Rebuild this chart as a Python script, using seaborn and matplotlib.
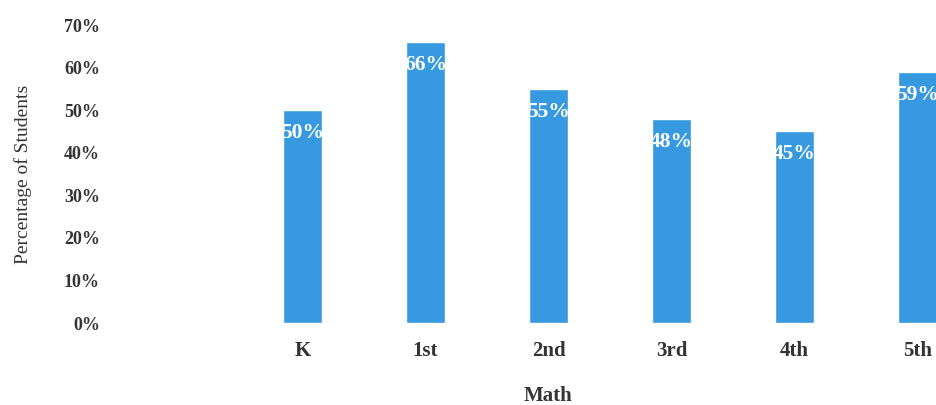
import pandas as pd
import seaborn as sns
import matplotlib.pyplot as plt

# grades shown on the axis; the first slot is left empty in the source chart
grades = ["", "K", "1st", "2nd", "3rd", "4th", "5th"]
bar_grades = ["K", "1st", "2nd", "3rd", "4th", "5th"]
math_pct = [50, 66, 55, 48, 45, 59]
y_ticks = [0, 10, 20, 30, 40, 50, 60, 70]

df = pd.DataFrame({"grade": bar_grades, "pct": math_pct})

sns.set_style("white")
plt.rcParams["font.family"] = ["Liberation Serif", "DejaVu Serif"]

fig = plt.figure(figsize=(9.37, 4.05), dpi=100)
# axes runs past the right edge, the reference is a crop of a wider chart
ax = fig.add_axes([118 / 937, 82 / 405, 861 / 937, 298 / 405])

sns.barplot(data=df, x="grade", y="pct", order=grades, color="#3799E0",
            saturation=1, width=0.31, ax=ax)

for i, v in enumerate(math_pct):
    ax.annotate(f"{v}%", xy=(i + 1, v), xytext=(0, -16.5),
                textcoords="offset points", ha="center", va="center",
                color="white", fontsize=15.5, fontweight="bold")

ax.set_ylim(0, 70)
ax.set_yticks(y_ticks)
ax.set_yticklabels([f"{t}%" for t in y_ticks], fontsize=13, fontweight="bold", color="#333333")
ax.set_xticks(range(len(grades)))
ax.set_xticklabels(grades, fontsize=15, fontweight="bold", color="#333333")
ax.tick_params(axis="y", length=0, pad=13)
ax.tick_params(axis="x", length=0, pad=13)

ax.set_ylabel("Percentage of Students", fontsize=14, color="#333333")
ax.yaxis.set_label_coords(-0.1, 0.5)
ax.set_xlabel("Math", fontsize=15, fontweight="bold", color="#333333", va="top")
ax.xaxis.set_label_coords(0.5, -0.21)

sns.despine(ax=ax, left=True, bottom=True)

fig.savefig("out.png", dpi=100)
